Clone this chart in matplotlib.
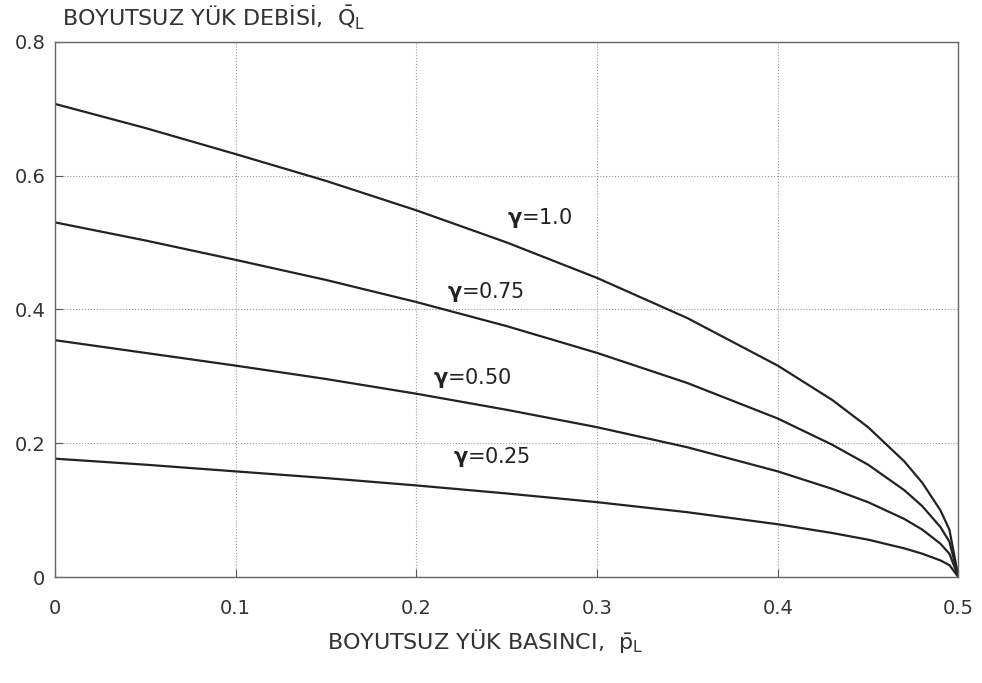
import numpy as np
import matplotlib
matplotlib.use('Agg')
import matplotlib.pyplot as plt

plt.rcParams['font.family'] = ['DejaVu Sans']
plt.rcParams['mathtext.fontset'] = 'custom'
plt.rcParams['mathtext.rm'] = 'DejaVu Sans'
plt.rcParams['mathtext.it'] = 'DejaVu Sans'
plt.rcParams['mathtext.bf'] = 'DejaVu Sans:bold'

# dimensionless load pressure
p_L = [0.0, 0.05, 0.1, 0.15, 0.2, 0.25, 0.3, 0.35, 0.4, 0.43, 0.45, 0.47, 0.48, 0.49, 0.495, 0.5]

# dimensionless load flow for each gamma
q_100 = [0.707, 0.671, 0.632, 0.592, 0.548, 0.500, 0.447, 0.387, 0.316, 0.265, 0.224, 0.173, 0.141, 0.100, 0.071, 0.0]
q_075 = [0.530, 0.503, 0.474, 0.444, 0.411, 0.375, 0.335, 0.290, 0.237, 0.198, 0.168, 0.130, 0.106, 0.075, 0.053, 0.0]
q_050 = [0.354, 0.335, 0.316, 0.296, 0.274, 0.250, 0.224, 0.194, 0.158, 0.132, 0.112, 0.087, 0.071, 0.050, 0.035, 0.0]
q_025 = [0.177, 0.168, 0.158, 0.148, 0.137, 0.125, 0.112, 0.097, 0.079, 0.066, 0.056, 0.043, 0.035, 0.025, 0.018, 0.0]

curve_labels = ['=1.0', '=0.75', '=0.50', '=0.25']
label_pos = [(0.250, 0.537), (0.217, 0.426), (0.209, 0.297), (0.220, 0.179)]

xticks = [0, 0.1, 0.2, 0.3, 0.4, 0.5]
xtick_labels = ['0', '0.1', '0.2', '0.3', '0.4', '0.5']
yticks = [0, 0.2, 0.4, 0.6, 0.8]
ytick_labels = ['0', '0.2', '0.4', '0.6', '0.8']

fig = plt.figure(figsize=(9.82, 6.83), dpi=100)
ax = fig.add_axes([0.056, 0.155, 0.92, 0.784])

for q in [q_100, q_075, q_050, q_025]:
    ax.plot(p_L, q, color='#222222', lw=1.6)

for lab, (x, y) in zip(curve_labels, label_pos):
    ax.text(x, y, r'$\mathbf{\gamma}$' + lab, fontsize=15, color='#222222',
            va='center', ha='left')

ax.set_xlim(0, 0.5)
ax.set_ylim(0, 0.8)
ax.set_xticks(xticks)
ax.set_xticklabels(xtick_labels)
ax.set_yticks(yticks)
ax.set_yticklabels(ytick_labels)
ax.tick_params(direction='in', length=6, color='#555555', labelsize=14,
               labelcolor='#333333')
ax.tick_params(axis='x', pad=16)
ax.tick_params(axis='y', pad=7)
ax.grid(True, linestyle=':', color='#999999', lw=0.8)
for s in ax.spines.values():
    s.set_color('#666666')
    s.set_linewidth(1.0)

fig.text(0.494, 0.05, r'BOYUTSUZ YÜK BASINCI,  $\bar{\mathrm{p}}_{\mathrm{L}}$', fontsize=16,
         color='#333333', va='baseline', ha='center')
fig.text(0.063, 0.962, r'BOYUTSUZ YÜK DEBİSİ,  $\bar{\mathrm{Q}}_{\mathrm{L}}$',
         fontsize=16, color='#333333', va='baseline', ha='left')

fig.savefig('out.png', dpi=100, facecolor='white')
